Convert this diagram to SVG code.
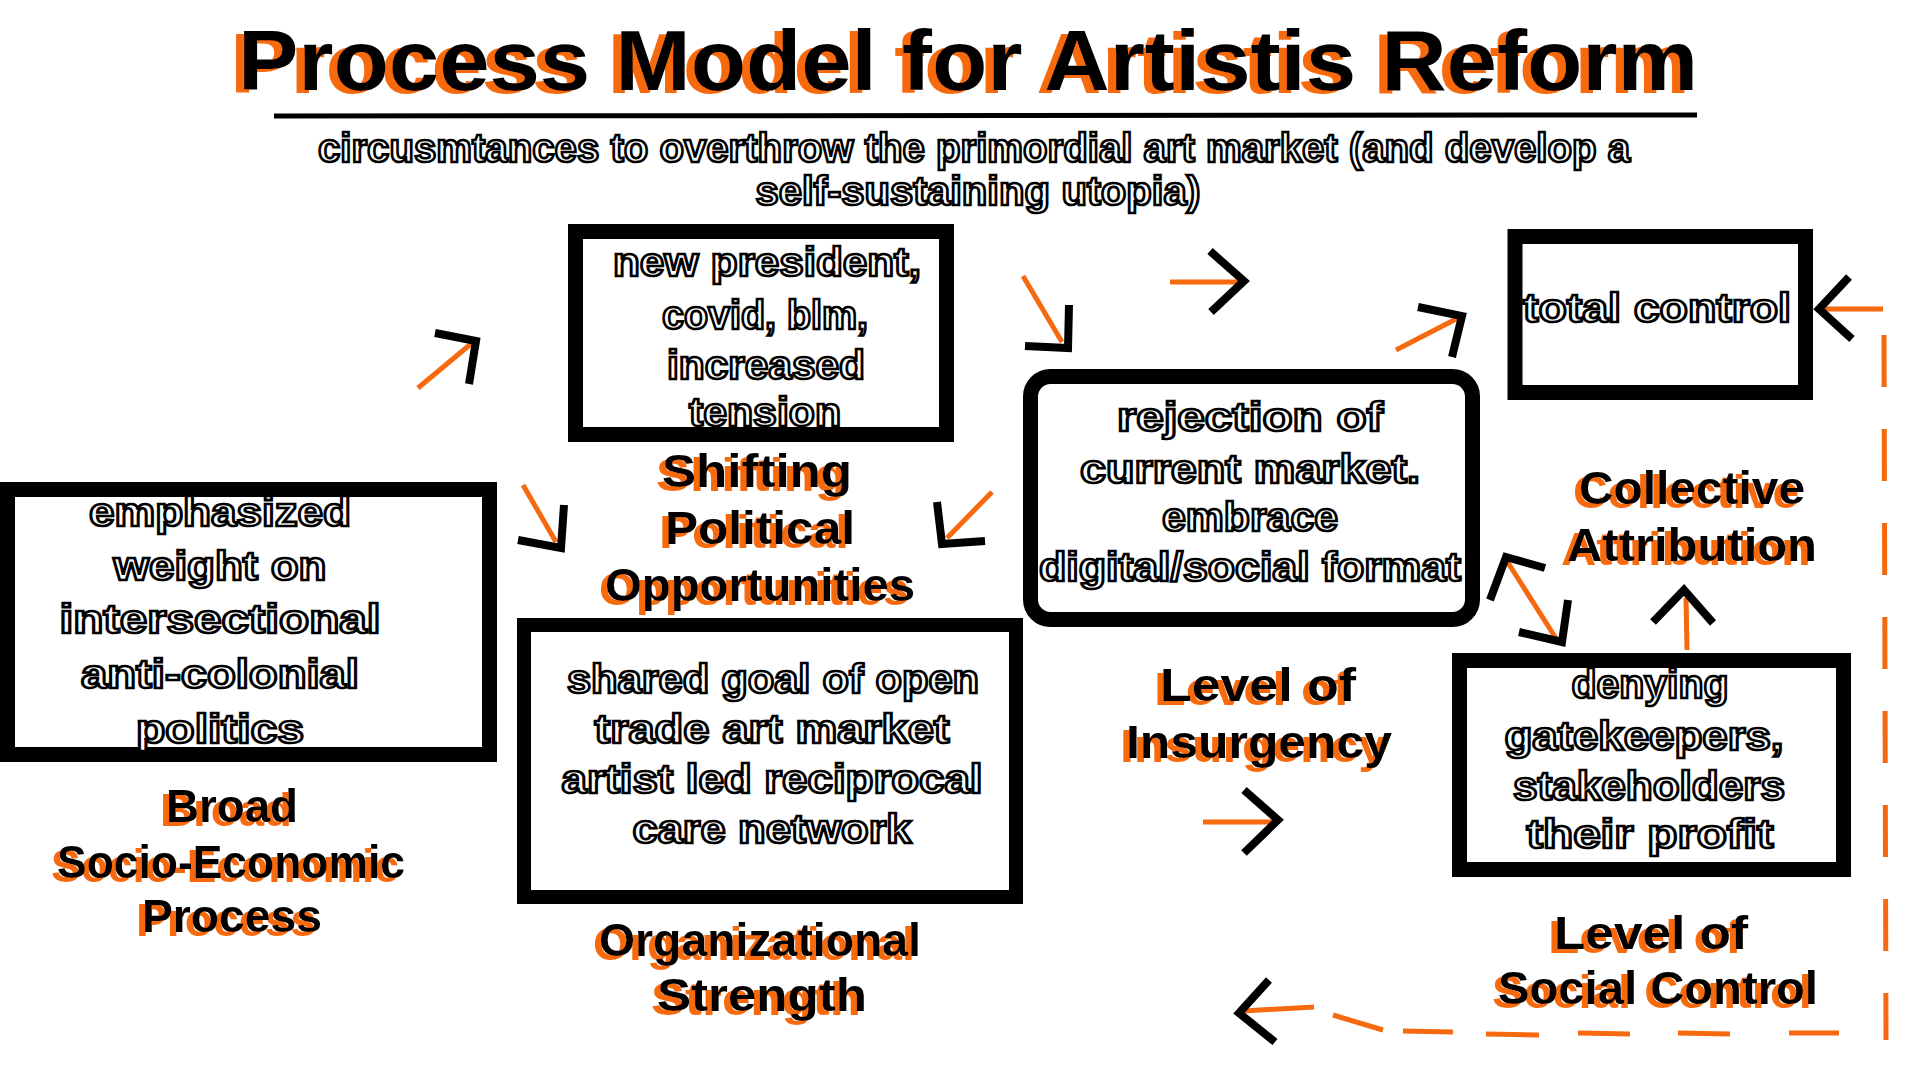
<svg xmlns="http://www.w3.org/2000/svg" width="1920" height="1080" viewBox="0 0 1920 1080">
<defs>
<filter id="shadow" x="-10%" y="-30%" width="120%" height="160%">
<feOffset in="SourceAlpha" dx="-6" dy="4" result="o"/>
<feFlood flood-color="#F7690F"/>
<feComposite in2="o" operator="in" result="s"/>
<feMerge><feMergeNode in="s"/><feMergeNode in="SourceGraphic"/></feMerge>
</filter>
<filter id="tshadow" x="-5%" y="-30%" width="110%" height="160%">
<feOffset in="SourceAlpha" dx="-8" dy="3" result="o"/>
<feFlood flood-color="#F7690F"/>
<feComposite in2="o" operator="in" result="s"/>
<feMerge><feMergeNode in="s"/><feMergeNode in="SourceGraphic"/></feMerge>
</filter>
</defs>
<style>
.box{fill:#fff;stroke:#000;stroke-width:15}
.ot{font-family:"Liberation Sans",Arial,sans-serif;font-weight:bold;font-size:40px;fill:#fff;stroke:#000;stroke-width:2.6;text-anchor:middle}
.lb{font-family:"Liberation Sans",Arial,sans-serif;font-weight:bold;font-size:46px;text-anchor:middle;fill:#000;filter:url(#shadow)}
.ttl{font-family:"Liberation Sans",Arial,sans-serif;font-weight:bold;font-size:86px;text-anchor:middle;fill:#000;filter:url(#tshadow)}
.ln{fill:none;stroke:#F7690F;stroke-width:5}
.hd{fill:none;stroke:#000;stroke-width:8;stroke-linejoin:miter;stroke-linecap:butt}
</style>
<rect width="1920" height="1080" fill="#fff"/>

<g id="title">
<text class="ttl" x="968" y="90" textLength="1460" lengthAdjust="spacingAndGlyphs">Process Model for Artistis Reform</text>
<line x1="274" y1="116" x2="1697" y2="115" stroke="#000" stroke-width="5"/>
<text class="ot" x="974" y="162" textLength="1312" lengthAdjust="spacingAndGlyphs">circusmtances to overthrow the primordial art market (and develop a</text>
<text class="ot" x="978" y="205" textLength="445" lengthAdjust="spacingAndGlyphs">self-sustaining utopia)</text>
</g>

<g id="node-political-events">
<rect class="box" x="575.5" y="231.5" width="371" height="203"/>
<text class="ot" x="767" y="276" textLength="308" lengthAdjust="spacingAndGlyphs">new president,</text>
<text class="ot" x="765" y="329" textLength="206" lengthAdjust="spacingAndGlyphs">covid, blm,</text>
<text class="ot" x="766" y="379" textLength="198" lengthAdjust="spacingAndGlyphs">increased</text>
<text class="ot" x="765" y="426" textLength="152" lengthAdjust="spacingAndGlyphs">tension</text>
</g>
<g id="label-shifting" class="lb">
<text x="757" y="487" textLength="190" lengthAdjust="spacingAndGlyphs">Shifting</text>
<text x="760" y="544" textLength="190" lengthAdjust="spacingAndGlyphs">Political</text>
<text x="760" y="601" textLength="310" lengthAdjust="spacingAndGlyphs">Opportunities</text>
</g>

<g id="node-broad">
<rect class="box" x="7.5" y="489.5" width="482" height="265"/>
<text class="ot" x="220" y="526" textLength="262" lengthAdjust="spacingAndGlyphs">emphasized</text>
<text class="ot" x="220" y="580" textLength="213" lengthAdjust="spacingAndGlyphs">weight on</text>
<text class="ot" x="220" y="633" textLength="321" lengthAdjust="spacingAndGlyphs">intersectional</text>
<text class="ot" x="220" y="688" textLength="278" lengthAdjust="spacingAndGlyphs">anti-colonial</text>
<text class="ot" x="220" y="743" textLength="168" lengthAdjust="spacingAndGlyphs">politics</text>
</g>
<g id="label-broad" class="lb">
<text x="232" y="822" textLength="132" lengthAdjust="spacingAndGlyphs">Broad</text>
<text x="231" y="878" textLength="348" lengthAdjust="spacingAndGlyphs">Socio-Economic</text>
<text x="232" y="932" textLength="180" lengthAdjust="spacingAndGlyphs">Process</text>
</g>

<g id="node-organization">
<rect class="box" x="524" y="625" width="492" height="272" style="stroke-width:14"/>
<text class="ot" x="773" y="693" textLength="412" lengthAdjust="spacingAndGlyphs">shared goal of open</text>
<text class="ot" x="772" y="743" textLength="355" lengthAdjust="spacingAndGlyphs">trade art market</text>
<text class="ot" x="772" y="793" textLength="421" lengthAdjust="spacingAndGlyphs">artist led reciprocal</text>
<text class="ot" x="772" y="843" textLength="279" lengthAdjust="spacingAndGlyphs">care network</text>
</g>
<g id="label-organizational" class="lb">
<text x="760" y="956" textLength="322" lengthAdjust="spacingAndGlyphs">Organizational</text>
<text x="762" y="1011" textLength="210" lengthAdjust="spacingAndGlyphs">Strength</text>
</g>

<g id="node-insurgency">
<rect class="box" x="1030.5" y="376.5" width="442" height="243" rx="20"/>
<text class="ot" x="1250" y="431" textLength="266" lengthAdjust="spacingAndGlyphs">rejection of</text>
<text class="ot" x="1250" y="483" textLength="340" lengthAdjust="spacingAndGlyphs">current market.</text>
<text class="ot" x="1250" y="531" textLength="176" lengthAdjust="spacingAndGlyphs">embrace</text>
<text class="ot" x="1250" y="581" textLength="422" lengthAdjust="spacingAndGlyphs">digital/social format</text>
</g>
<g id="label-insurgency" class="lb">
<text x="1258" y="701" textLength="196" lengthAdjust="spacingAndGlyphs">Level of</text>
<text x="1259" y="758" textLength="266" lengthAdjust="spacingAndGlyphs">Insurgency</text>
</g>

<g id="node-total-control">
<rect class="box" x="1515" y="236.5" width="290.5" height="156"/>
<text class="ot" x="1657" y="322" textLength="268" lengthAdjust="spacingAndGlyphs">total control</text>
</g>

<g id="label-collective" class="lb">
<text x="1692" y="504" textLength="226" lengthAdjust="spacingAndGlyphs">Collective</text>
<text x="1692" y="561" textLength="250" lengthAdjust="spacingAndGlyphs">Attribution</text>
</g>

<g id="node-social-control">
<rect class="box" x="1459.5" y="660.5" width="384" height="209"/>
<text class="ot" x="1650" y="698" textLength="157" lengthAdjust="spacingAndGlyphs">denying</text>
<text class="ot" x="1644" y="750" textLength="279" lengthAdjust="spacingAndGlyphs">gatekeepers,</text>
<text class="ot" x="1649" y="800" textLength="272" lengthAdjust="spacingAndGlyphs">stakeholders</text>
<text class="ot" x="1650" y="848" textLength="247" lengthAdjust="spacingAndGlyphs">their profit</text>
</g>
<g id="label-social-control" class="lb">
<text x="1651" y="949" textLength="194" lengthAdjust="spacingAndGlyphs">Level of</text>
<text x="1658" y="1004" textLength="320" lengthAdjust="spacingAndGlyphs">Social Control</text>
</g>

<g id="connectors">
<line class="ln" x1="418" y1="388" x2="472" y2="343"/>
<polyline class="hd" points="435,333 476,341 469,384"/>

<line class="ln" x1="523" y1="485" x2="556" y2="542"/>
<polyline class="hd" points="518,540 561,548 564,505"/>

<line class="ln" x1="992" y1="492" x2="947" y2="538"/>
<polyline class="hd" points="937,502 942,544 985,541"/>

<line class="ln" x1="1023" y1="276" x2="1062" y2="342"/>
<polyline class="hd" points="1025,346 1068,348 1069,305"/>

<line class="ln" x1="1170" y1="282" x2="1240" y2="282"/>
<polyline class="hd" points="1210,251 1244,281 1211,312"/>

<line class="ln" x1="1396" y1="350" x2="1458" y2="318"/>
<polyline class="hd" points="1418,307 1462,316 1452,357"/>

<line class="ln" x1="1505" y1="558" x2="1557" y2="640"/>
<polyline class="hd" points="1490,600 1506,557 1545,568"/>
<polyline class="hd" points="1519,632 1562,642 1568,600"/>

<line class="ln" x1="1686" y1="598" x2="1687" y2="650"/>
<polyline class="hd" points="1653,622 1684,590 1713,623"/>

<line class="ln" x1="1203" y1="822" x2="1272" y2="822"/>
<polyline class="hd" points="1244,790 1278,820 1244,853"/>

<line class="ln" x1="1825" y1="309" x2="1883" y2="309"/>
<polyline class="hd" points="1849,277 1819,309 1852,339"/>
<line class="ln" x1="1884" y1="335" x2="1886" y2="1040" stroke-dasharray="52 42"/>
<line class="ln" x1="1839" y1="1033" x2="1789" y2="1033"/>
<line class="ln" x1="1730" y1="1034" x2="1678" y2="1033"/>
<line class="ln" x1="1630" y1="1034" x2="1578" y2="1033"/>
<line class="ln" x1="1539" y1="1035" x2="1486" y2="1034"/>
<line class="ln" x1="1453" y1="1032" x2="1403" y2="1031"/>
<line class="ln" x1="1383" y1="1030" x2="1333" y2="1015"/>
<line class="ln" x1="1314" y1="1007" x2="1243" y2="1011"/>
<polyline class="hd" points="1269,980 1239,1013 1275,1042"/>
</g>
</svg>
